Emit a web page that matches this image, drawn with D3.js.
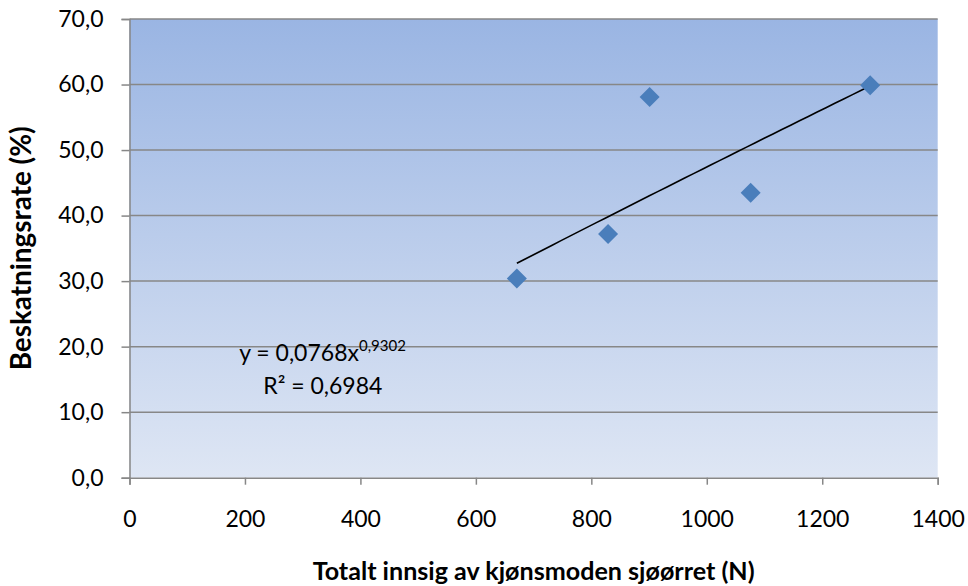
<!DOCTYPE html>
<html>
<head>
<meta charset="utf-8">
<script src="https://cdn.jsdelivr.net/npm/d3@7"></script>
<style>
  html, body { margin: 0; padding: 0; background: #ffffff; }
  svg { display: block; }
  text { font-family: Lato, "Open Sans", "Liberation Sans", sans-serif; fill: #000; }
</style>
</head>
<body>
<svg id="chart" width="968" height="586"></svg>
<script>
// Total run of mature sea trout vs. catch rate
const innsig = [671, 829, 901, 1076, 1283];
const beskatning = [30.4, 37.2, 58.1, 43.5, 59.9];

// Power trendline y = a * x^b
const trendA = 0.0768;
const trendB = 0.9302;
const trendLabel = "y = 0,0768x";
const trendExpLabel = "0,9302";
const r2Label = "R² = 0,6984";

const xTicks = [0, 200, 400, 600, 800, 1000, 1200, 1400];
const yTicks = [0, 10, 20, 30, 40, 50, 60, 70];

const xTitle = "Totalt innsig av kjønsmoden sjøørret (N)";
const yTitle = "Beskatningsrate (%)";

const W = 968, H = 586;
const plot = { left: 129.5, right: 937.7, top: 19, bottom: 477.7 };

const svg = d3.select("#chart");

const x = d3.scaleLinear().domain([0, 1400]).range([plot.left, plot.right]);
const y = d3.scaleLinear().domain([0, 70]).range([plot.bottom, plot.top]);

const fmtY = v => d3.format(".1f")(v).replace(".", ",");

// Plot area gradient fill
const defs = svg.append("defs");
const grad = defs.append("linearGradient")
  .attr("id", "plotFill").attr("x1", 0).attr("y1", 0).attr("x2", 0).attr("y2", 1);
grad.append("stop").attr("offset", "0%").attr("stop-color", "#9ab5e3");
grad.append("stop").attr("offset", "100%").attr("stop-color", "#dee6f4");

svg.append("rect")
  .attr("x", plot.left).attr("y", plot.top)
  .attr("width", plot.right - plot.left).attr("height", plot.bottom - plot.top)
  .attr("fill", "url(#plotFill)");

// Horizontal gridlines
svg.append("g")
  .selectAll("line")
  .data(yTicks.filter(v => v > 0))
  .join("line")
  .attr("x1", plot.left).attr("x2", plot.right)
  .attr("y1", d => y(d)).attr("y2", d => y(d))
  .attr("stroke", "#878787").attr("stroke-width", 1.5);

// Y axis
const yAxis = svg.append("g")
  .attr("transform", `translate(${plot.left},0)`)
  .call(d3.axisLeft(y).tickValues(yTicks).tickFormat(fmtY).tickSize(8).tickPadding(18));
yAxis.select(".domain").attr("stroke", "#878787").attr("stroke-width", 1.5);
yAxis.selectAll(".tick line").attr("stroke", "#878787").attr("stroke-width", 1.5);
yAxis.selectAll(".tick text")
  .style("font-size", "23px").style("font-family", "Lato, 'Open Sans', sans-serif")
  .attr("fill", "#000");

// X axis
const xAxis = svg.append("g")
  .attr("transform", `translate(0,${plot.bottom})`)
  .call(d3.axisBottom(x).tickValues(xTicks).tickFormat(d3.format("d")).tickSize(7).tickPadding(26));
xAxis.select(".domain").attr("stroke", "#878787").attr("stroke-width", 1.5);
xAxis.selectAll(".tick line").attr("stroke", "#878787").attr("stroke-width", 1.5);
xAxis.selectAll(".tick text")
  .style("font-size", "23px").style("font-family", "Lato, 'Open Sans', sans-serif")
  .attr("fill", "#000");

// Trendline across the observed range
const xMin = d3.min(innsig), xMax = d3.max(innsig);
const trendPts = d3.range(0, 41).map(i => {
  const xv = xMin + (xMax - xMin) * i / 40;
  return [xv, trendA * Math.pow(xv, trendB)];
});
svg.append("path")
  .datum(trendPts)
  .attr("fill", "none")
  .attr("stroke", "#000")
  .attr("stroke-width", 1.6)
  .attr("d", d3.line().x(d => x(d[0])).y(d => y(d[1])));

// Diamond markers
const diamond = d3.symbol().type(d3.symbolSquare).size(200);
svg.append("g")
  .selectAll("path")
  .data(innsig.map((v, i) => [v, beskatning[i]]))
  .join("path")
  .attr("d", diamond)
  .attr("transform", d => `translate(${x(d[0])},${y(d[1])}) rotate(45)`)
  .attr("fill", "#4a7ebb");

// Trendline equation
const eq = svg.append("text")
  .attr("x", 322.5).attr("y", 360.7)
  .attr("text-anchor", "middle")
  .style("font-size", "23px");
eq.append("tspan").text(trendLabel);
eq.append("tspan").attr("dy", -10).style("font-size", "15px").text(trendExpLabel);

svg.append("text")
  .attr("x", 322.8).attr("y", 394)
  .attr("text-anchor", "middle")
  .style("font-size", "23px")
  .text(r2Label);

// Axis titles, sized so they span the intended width
function fitText(sel, targetWidth) {
  const len = sel.node().getComputedTextLength();
  const size = parseFloat(sel.style("font-size"));
  sel.style("font-size", (size * targetWidth / len).toFixed(2) + "px");
}

const xt = svg.append("text")
  .attr("x", (plot.left + plot.right) / 2).attr("y", 580)
  .attr("text-anchor", "middle")
  .style("font-size", "21px").style("font-weight", "bold")
  .text(xTitle);
fitText(xt, 442);

const yt = svg.append("text")
  .attr("transform", `translate(31,${(plot.top + plot.bottom) / 2}) rotate(-90)`)
  .attr("text-anchor", "middle")
  .style("font-size", "21px").style("font-weight", "bold")
  .text(yTitle);
fitText(yt, 244);
</script>
</body>
</html>
